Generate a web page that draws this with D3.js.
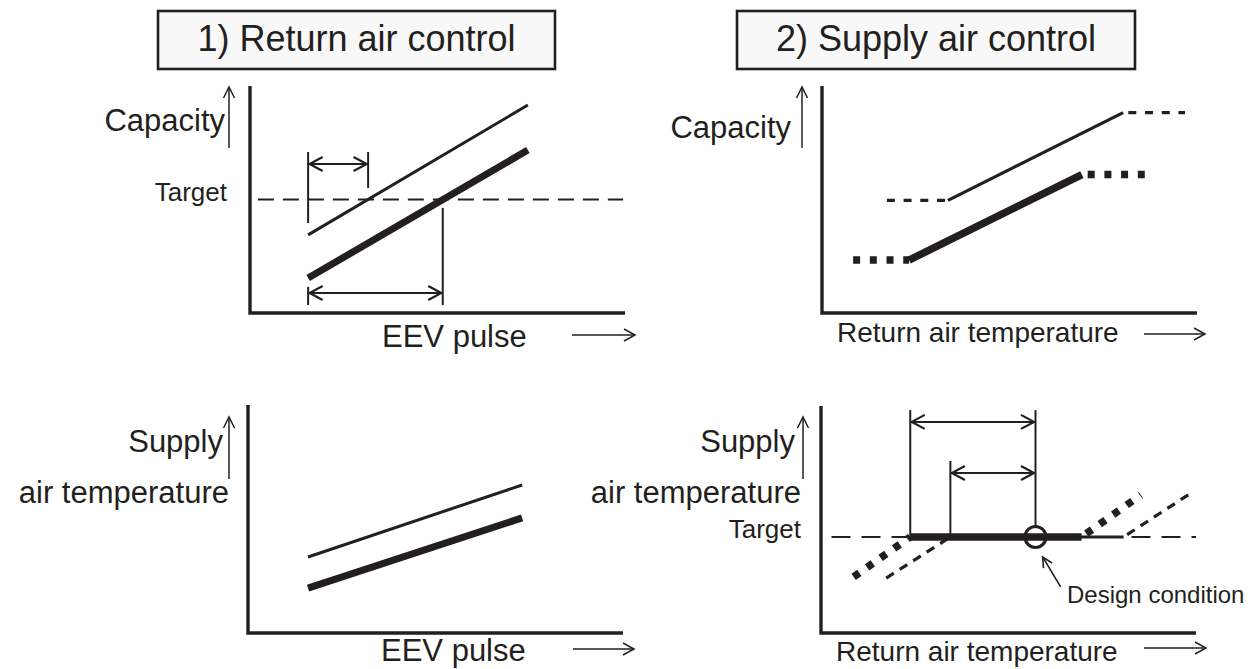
<!DOCTYPE html>
<html>
<head>
<meta charset="utf-8">
<script src="https://cdn.jsdelivr.net/npm/d3@7"></script>
<style>
  html, body { margin: 0; padding: 0; background: #fff; }
  svg { display: block; }
  text { font-family: "Liberation Sans", Arial, Helvetica, sans-serif; fill: #231f20; }
</style>
</head>
<body>
<svg id="chart" width="1255" height="669"></svg>
<script>
// ---- data (all in 0..100 schematic axis units) ----
const titles = ["1) Return air control", "2) Supply air control"];
const axisLabels = {
  capacity: "Capacity",
  supply: ["Supply", "air temperature"],
  eev: "EEV pulse",
  returnAir: "Return air temperature",
  target: "Target",
  design: "Design condition"
};

// 1) Return air control – capacity vs EEV pulse
const eevCapacityThin  = [[15.5, 34.4], [74.1, 91.6]];
const eevCapacityThick = [[15.5, 15.4], [74.1, 71.8]];
const capacityTarget = 50;
const eevCapacitySpan = [2.1, 99.5];
// dimension arrows: [from, to, level, leftTick[lo,hi], rightTick[lo,hi]]
const eevDimShort = [15.5, 31.5, 65.6, [39.6, 70.9], [55.1, 70.9]];
const eevDimLong  = [15.5, 51.4, 8.8, [3.5, 11.5], [3.5, 46.3]];

// 1) Return air control – supply air temperature vs EEV pulse
const eevSupplyThin  = [[16, 33.5], [73.1, 65.2]];
const eevSupplyThick = [[16, 19.8], [73.1, 50.7]];

// 2) Supply air control – capacity vs return air temperature
const retCapacityThin  = [[17.3, 49.6], [33.6, 49.6], [80.3, 88.3], [96.8, 88.3]];
const retCapacityThick = [[8.3, 23.3], [23.2, 23.3], [69.3, 61], [86.4, 61]];
const segStyles = ["broken", "solid", "broken"];

// 2) Supply air control – supply air temperature vs return air temperature
const supplyTarget = 42.3;
const supplySpan = [2.8, 100];
const retSupplyThin  = [[17.4, 24.2], [34.5, 42.3], [80.7, 42.3], [98.7, 61.7]];
const retSupplyThick = [[8.7, 24.7], [23.8, 42.3], [69.5, 42.3], [85.3, 60.8]];
const designPoint = [57.2, 42.3];
const retDimLong  = [23.8, 57.2, 93, [42.3, 98.2], [46.9, 98.2]];
const retDimShort = [34.5, 57.2, 70.5, [42.3, 75.8], null];
const designPointer = [[63.9, 20.3], [59.1, 33.5]];

// ---- layout ----
const INK = "#231f20";
const svg = d3.select("#chart");
const W = 375, H = 227;

function makePanel(x0, yBottom) {
  return {
    x0, yBottom,
    x: d3.scaleLinear().domain([0, 100]).range([x0, x0 + W]),
    y: d3.scaleLinear().domain([0, 100]).range([yBottom, yBottom - H])
  };
}
const p1 = makePanel(250, 313);
const p2 = makePanel(822, 313);
const p3 = makePanel(248, 633);
const p4 = makePanel(821, 633);

// title boxes
const titleBoxes = [[158, 555], [737, 1135]];
titleBoxes.forEach(([a, b], i) => {
  svg.append("rect").attr("x", a).attr("y", 11).attr("width", b - a).attr("height", 58)
    .attr("fill", "#f8f8f8").attr("stroke", INK).attr("stroke-width", 2.6);
  svg.append("text").attr("x", (a + b) / 2).attr("y", 51).attr("text-anchor", "middle")
    .attr("font-size", 36).text(titles[i]);
});

// helpers
function openHead(g, tip, angle, len, half, sw) {
  const c = Math.cos(angle), s = Math.sin(angle);
  const bx = tip[0] - c * len, by = tip[1] - s * len;
  g.append("path")
    .attr("d", `M${bx - s * half},${by + c * half}L${tip[0]},${tip[1]}L${bx + s * half},${by - c * half}`)
    .attr("fill", "none").attr("stroke", INK).attr("stroke-width", sw)
    .attr("stroke-linejoin", "miter");
}
function seg(g, a, b, sw, dash) {
  const l = g.append("line").attr("x1", a[0]).attr("y1", a[1]).attr("x2", b[0]).attr("y2", b[1])
    .attr("stroke", INK).attr("stroke-width", sw);
  if (dash) l.attr("stroke-dasharray", dash);
  return l;
}

function drawAxes(p, topY) {
  const g = svg.append("g");
  g.append("path")
    .attr("d", `M${p.x0},${topY}V${p.yBottom}H${p.x(100)}`)
    .attr("fill", "none").attr("stroke", INK).attr("stroke-width", 3.4)
    .attr("stroke-linejoin", "miter");
}
function upArrow(x, y1, y2) {
  const g = svg.append("g");
  seg(g, [x, y2], [x, y1], 1.5);
  openHead(g, [x, y1], -Math.PI / 2, 11, 5.5, 1.5);
}
function rightArrow(x1, x2, y) {
  const g = svg.append("g");
  seg(g, [x1, y], [x2, y], 1.5);
  openHead(g, [x2, y], 0, 11, 6, 1.5);
}
function label(x, y, txt, size, anchor) {
  svg.append("text").attr("x", x).attr("y", y).attr("font-size", size)
    .attr("text-anchor", anchor || "start").text(txt);
}
function dimension(p, d) {
  const [from, to, level, lt, rt] = d;
  const g = svg.append("g");
  if (lt) seg(g, [p.x(from), p.y(lt[0])], [p.x(from), p.y(lt[1])], 2);
  if (rt) seg(g, [p.x(to), p.y(rt[0])], [p.x(to), p.y(rt[1])], 2);
  const ya = p.y(level);
  seg(g, [p.x(from) + 1, ya], [p.x(to) - 1, ya], 2);
  openHead(g, [p.x(from) + 1.5, ya], Math.PI, 13, 7, 2.2);
  openHead(g, [p.x(to) - 1.5, ya], 0, 13, 7, 2.2);
}
function series(p, pts, sw, brokenDash, styles) {
  const g = svg.append("g");
  const line = d3.line().x(d => p.x(d[0])).y(d => p.y(d[1]));
  if (!styles) {
    g.append("path").attr("d", line(pts)).attr("fill", "none")
      .attr("stroke", INK).attr("stroke-width", sw);
    return;
  }
  for (let i = 0; i < pts.length - 1; i++) {
    const path = g.append("path").attr("d", line([pts[i], pts[i + 1]])).attr("fill", "none")
      .attr("stroke", INK).attr("stroke-width", sw);
    if (styles[i] === "broken") {
      path.attr("stroke-dasharray", brokenDash);
      // a broken run that leaves a solid ramp starts with a short gap
      if (i > 0) path.attr("stroke-dashoffset", -(+brokenDash.split(" ")[1] * 0.6));
    }
  }
}

// ---- panel 1: capacity vs EEV pulse ----
drawAxes(p1, 86);
upArrow(p1.x0 - 21, 87, 148);
label(p1.x0 - 25, 131, axisLabels.capacity, 31, "end");
label(p1.x0 - 23, 201, axisLabels.target, 26, "end");
label(382, 347, axisLabels.eev, 31);
rightArrow(572, 635, 335);
seg(svg, [p1.x(eevCapacitySpan[0]), p1.y(capacityTarget)], [p1.x(eevCapacitySpan[1]), p1.y(capacityTarget)], 2, "16 9");
series(p1, eevCapacityThin, 3);
series(p1, eevCapacityThick, 7);
dimension(p1, eevDimShort);
dimension(p1, eevDimLong);

// ---- panel 2: capacity vs return air temperature ----
drawAxes(p2, 86);
upArrow(p2.x0 - 20, 87, 148);
label(p2.x0 - 31, 138, axisLabels.capacity, 31, "end");
label(837, 342, axisLabels.returnAir, 28);
rightArrow(1144, 1205, 334);
series(p2, retCapacityThin, 3.2, "8 8.7", segStyles);
series(p2, retCapacityThick, 7.5, "7 9.7", segStyles);

// ---- panel 3: supply air temperature vs EEV pulse ----
drawAxes(p3, 405);
upArrow(p3.x0 - 19, 417, 479);
label(223, 452, axisLabels.supply[0], 31, "end");
label(229, 503, axisLabels.supply[1], 31, "end");
label(381, 661, axisLabels.eev, 31);
rightArrow(573, 634, 649);
series(p3, eevSupplyThin, 3);
series(p3, eevSupplyThick, 7);

// ---- panel 4: supply air temperature vs return air temperature ----
drawAxes(p4, 406);
upArrow(p4.x0 - 18, 417, 479);
label(795, 452, axisLabels.supply[0], 31, "end");
label(801, 503, axisLabels.supply[1], 31, "end");
label(801, 538, axisLabels.target, 26, "end");
label(836, 661, axisLabels.returnAir, 28);
rightArrow(1144, 1206, 648);
seg(svg, [p4.x(supplySpan[0]), p4.y(supplyTarget)], [p4.x(supplySpan[1]), p4.y(supplyTarget)], 2, "19 11");
series(p4, retSupplyThin, 3.2, "9 7", segStyles);
series(p4, retSupplyThick, 7.5, "7 9.5", segStyles);
dimension(p4, retDimLong);
dimension(p4, retDimShort);
svg.append("circle").attr("cx", p4.x(designPoint[0])).attr("cy", p4.y(designPoint[1]))
  .attr("r", 10.5).attr("fill", "none").attr("stroke", INK).attr("stroke-width", 3);
{
  const g = svg.append("g");
  const a = [p4.x(designPointer[0][0]), p4.y(designPointer[0][1])];
  const b = [p4.x(designPointer[1][0]), p4.y(designPointer[1][1])];
  seg(g, a, b, 1.6);
  openHead(g, b, Math.atan2(b[1] - a[1], b[0] - a[0]), 10, 5, 1.6);
}
label(1067, 603, axisLabels.design, 24);
</script>
</body>
</html>
